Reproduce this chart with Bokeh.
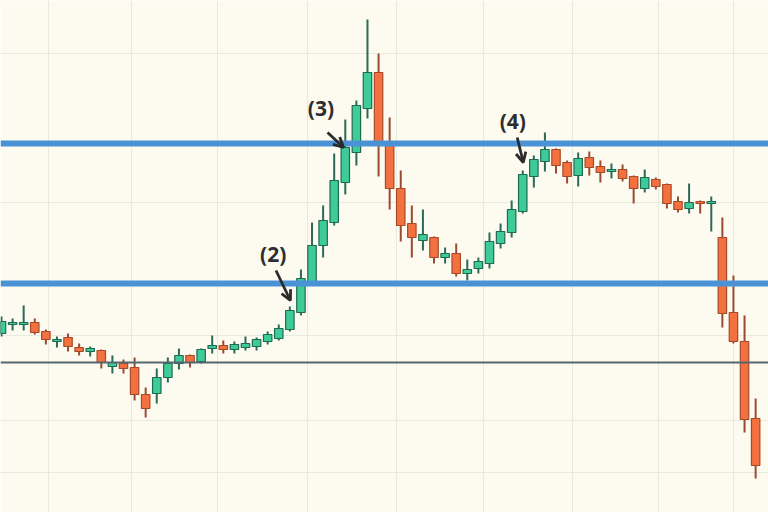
from bokeh.plotting import figure
from bokeh.models import Range1d, Span, Arrow, OpenHead, FixedTicker, ColumnDataSource
from bokeh.core.properties import value
from bokeh.embed import file_html
from bokeh.resources import INLINE

# ---- data (price units) ----
opens = [179, 188, 188, 190, 181, 171, 175, 165, 161, 162, 146, 149, 145, 118, 119, 135, 149, 157, 151, 164,
         167, 163, 165, 166, 171, 174, 183, 200, 230, 267, 290, 330, 360, 404, 440, 367, 324, 289, 272, 275,
         255, 259, 239, 244, 249, 269, 280, 301, 336, 351, 363, 350, 337, 355, 346, 341, 343, 336, 324, 333,
         328, 311, 304, 311, 309, 275, 200, 171, 94]
closes = [191, 190, 190, 180, 173, 173, 166, 161, 164, 150, 150, 144, 118, 104, 135, 149, 157, 150, 163, 167,
          163, 168, 169, 173, 178, 184, 202, 234, 267, 292, 332, 365, 407, 440, 367, 324, 287, 275, 278, 255,
          259, 239, 243, 251, 271, 281, 303, 338, 353, 363, 347, 336, 354, 345, 340, 343, 334, 324, 335, 326,
          309, 303, 310, 309, 311, 199, 171, 93, 47]
highs = [196, 194, 207, 194, 183, 176, 179, 169, 166, 163, 157, 153, 155, 125, 144, 155, 164, 158, 164, 177,
         172, 171, 176, 175, 181, 188, 206, 243, 290, 307, 359, 393, 412, 493, 459, 395, 342, 307, 303, 276,
         265, 269, 253, 255, 280, 289, 312, 342, 357, 380, 364, 352, 360, 361, 352, 349, 348, 337, 343, 335,
         329, 316, 329, 312, 316, 295, 237, 197, 114]
lows = [176, 182, 182, 178, 168, 165, 161, 157, 156, 144, 139, 139, 112, 95, 109, 130, 143, 145, 149, 159,
        159, 159, 162, 162, 168, 172, 181, 197, 227, 255, 287, 318, 347, 394, 336, 303, 271, 255, 262, 249,
        249, 236, 232, 239, 244, 264, 275, 299, 325, 341, 339, 329, 326, 337, 330, 334, 331, 309, 320, 323,
        304, 300, 299, 299, 281, 185, 169, 80, 34]

levels_major = [369, 229]   # thick blue horizontal levels
levels_minor = [150]        # thin dark level

labels = ["(2)", "(3)", "(4)"]
label_x = [24.5, 28.8, 46.1]
label_y = [259, 405, 392]
arrow_x0 = [24.75, 29.4, 46.5]
arrow_y0 = [242, 380, 375]
arrow_x1 = [26.05, 30.85, 47.05]
arrow_y1 = [212, 365, 350]

grid_x = [4.24, 11.72, 19.48, 27.6, 35.6, 43.5, 51.5, 59.2, 66.0]
grid_y = [459, 310, 177, 92, 40]

# ---- build ----
idx = list(range(len(opens)))
up = [c >= o for o, c in zip(opens, closes)]
GREEN_FILL, GREEN_LINE, GREEN_WICK = "#3ecb98", "#1e6b53", "#2a6a56"
RED_FILL, RED_LINE, RED_WICK = "#f3703f", "#a84a2a", "#9a4a32"

src = ColumnDataSource(dict(
    x=idx,
    top=[max(o, c) for o, c in zip(opens, closes)],
    bottom=[min(o, c) for o, c in zip(opens, closes)],
    high=highs, low=lows,
    fill=[GREEN_FILL if u else RED_FILL for u in up],
    line=[GREEN_LINE if u else RED_LINE for u in up],
    wick=[GREEN_WICK if u else RED_WICK for u in up],
))

BG = "#fdfbf0"
p = figure(width=768, height=512, output_backend="svg", toolbar_location=None,
           x_range=Range1d(-0.09, 69.16), y_range=Range1d(0, 512),
           background_fill_color=BG, border_fill_color=BG, min_border=0)
p.axis.visible = False
p.outline_line_color = None
p.xgrid.ticker = FixedTicker(ticks=grid_x)
p.ygrid.ticker = FixedTicker(ticks=grid_y)
p.grid.grid_line_color = "#e6eadf"
p.grid.grid_line_width = 1

for lv in levels_minor:
    p.add_layout(Span(location=lv, dimension="width", line_color="#56666e", line_width=2))
for lv in levels_major:
    p.add_layout(Span(location=lv, dimension="width", line_color="#4a92d6", line_width=6))

p.segment(x0="x", y0="low", x1="x", y1="high", source=src, line_color="wick", line_width=2)
p.vbar(x="x", top="top", bottom="bottom", width=0.76, source=src,
       fill_color="fill", line_color="line", line_width=1.2)

for i in range(len(labels)):
    p.add_layout(Arrow(end=OpenHead(size=10, line_width=2.8, line_color="#2b2b2b"),
                       x_start=arrow_x0[i], y_start=arrow_y0[i],
                       x_end=arrow_x1[i], y_end=arrow_y1[i],
                       line_color="#2b2b2b", line_width=2.8))

p.text(x=label_x, y=label_y, text=labels, text_font=value("Open Sans"),
       text_font_style="bold", text_font_size="21px", text_color="#2e2e2e",
       text_align="center", text_baseline="middle")

open("out.html", "w").write(file_html(p, INLINE))
